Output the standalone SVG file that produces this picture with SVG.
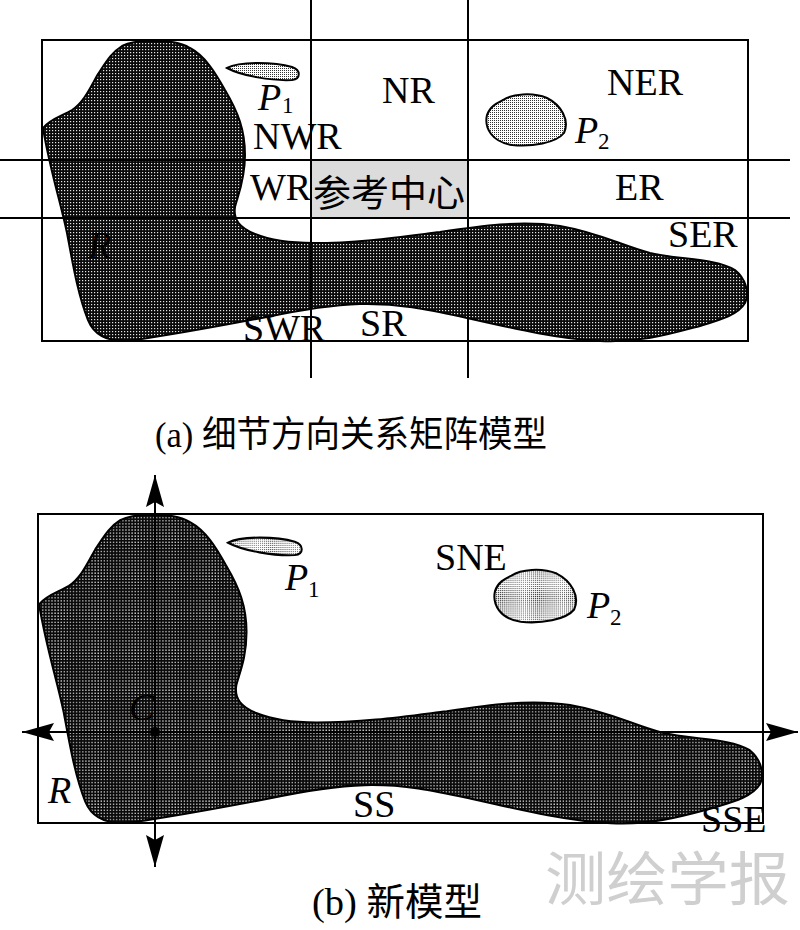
<svg xmlns="http://www.w3.org/2000/svg" xmlns:xlink="http://www.w3.org/1999/xlink" width="800" height="930" viewBox="0 0 800 930">
<style>
.frame{fill:none;stroke:#000;stroke-width:2}
.line{stroke:#000;stroke-width:2;fill:none}
.blob{fill:url(#dark);stroke:#000;stroke-width:2}
.small{fill:url(#light);stroke:#000;stroke-width:2}
.t{font-family:"Liberation Serif","Times New Roman",serif;font-size:38px;fill:#000}
.i{font-style:italic}
.sub{font-size:23px}
.cap{font-family:"Liberation Serif","Noto Sans CJK SC",serif;fill:#000}
.cjk{font-family:"Noto Sans CJK SC",sans-serif;fill:#000}
</style>
<defs>
<pattern id="dark" width="3" height="3" patternUnits="userSpaceOnUse">
<rect width="3" height="3" fill="#0a0a0a"/>
<rect x="1" y="1" width="1.2" height="1.2" fill="#e6e6e6"/>
</pattern>
<pattern id="light" width="2" height="2" patternUnits="userSpaceOnUse">
<rect width="2" height="2" fill="#fff"/>
<rect width="1" height="1" fill="#333"/>
</pattern>
<marker id="arr" markerWidth="32" markerHeight="20" refX="32" refY="10" orient="auto" markerUnits="userSpaceOnUse">
<path d="M32,10 L0,1 L5,10 L0,19 Z" fill="#000"/>
</marker>
<path id="Rshape" d="M43,128 C50,119 62,116 72,110 C84,102 90,88 98,74 C106,62 112,52 122,46 C130,42 138,41 150,41 C170,41 180,42 190,48 C205,56 215,72 225,90 C238,112 245,130 245,155 C245,180 238,195 235,207 C233,220 240,228 255,234 C275,242 295,243 313,243 C360,243 400,237 440,232 C480,226 520,220 560,226 C600,233 620,245 650,253 C680,260 715,258 735,270 C745,278 750,292 745,303 C738,315 720,320 700,326 C670,334 640,343 600,341 C560,339 520,330 467,318 C430,310 400,303 360,304 C330,305 300,310 267,317 C220,326 170,335 135,340 C112,343 95,337 88,320 C78,295 73,265 67,233 C60,200 50,170 43,128 Z"/>
<path id="P1shape" d="M227,68 C240,61 275,62 292,67 C301,70 301,79 292,80 C272,81 242,76 227,68 Z"/>
<path id="P2shape" d="M503,100 C512,94 532,92 547,98 C561,105 570,120 564,133 C556,143 532,147 512,145 C492,142 484,128 487,115 C490,106 497,103 503,100 Z"/>
</defs>

<rect width="800" height="930" fill="#fff"/>

<!-- Panel (a) -->
<g id="panel-a-frame"><rect class="frame" x="42" y="40" width="706" height="301"/></g>
<g id="R-a"><use xlink:href="#Rshape" class="blob"/></g>
<g id="P1-a"><use xlink:href="#P1shape" class="small"/></g>
<g id="P2-a"><use xlink:href="#P2shape" class="small"/></g>
<g id="ref-center"><rect x="311" y="160" width="157" height="58" fill="#dcdcdc"/>
<text class="cjk" x="313" y="207" font-size="37" textLength="152" lengthAdjust="spacingAndGlyphs">参考中心</text></g>

<g id="connectors">
<line class="line" x1="311" y1="0" x2="311" y2="378"/>
<line class="line" x1="468" y1="0" x2="468" y2="378"/>
<line class="line" x1="0" y1="160" x2="790" y2="160"/>
<line class="line" x1="0" y1="218" x2="790" y2="218"/>
<line class="line" x1="155" y1="520" x2="155" y2="475" marker-end="url(#arr)"/>
<line class="line" x1="155" y1="820" x2="155" y2="867" marker-end="url(#arr)"/>
<line class="line" x1="155" y1="732" x2="22" y2="732" marker-end="url(#arr)"/>
<line class="line" x1="155" y1="732" x2="798" y2="732" marker-end="url(#arr)"/>
</g>

<g id="labels-a">
<text class="t i" x="258" y="110">P</text><text class="t sub" x="282" y="113">1</text>
<text class="t" x="382" y="103">NR</text>
<text class="t" x="607" y="95">NER</text>
<text class="t i" x="575" y="143">P</text><text class="t sub" x="598" y="149">2</text>
<text class="t" x="253" y="149">NWR</text>
<text class="t" x="250" y="200">WR</text>
<text class="t" x="615" y="200">ER</text>
<text class="t" x="668" y="247">SER</text>
<text class="t i" x="88" y="258" font-size="34">R</text>
<text class="t" x="243" y="341">SWR</text>
<text class="t" x="360" y="336">SR</text>
</g>
<g id="caption-a"><text class="cap" x="155" y="447" font-size="36" textLength="392" lengthAdjust="spacingAndGlyphs">(a) 细节方向关系矩阵模型</text></g>

<!-- Panel (b) -->
<g id="panel-b-frame"><rect class="frame" x="38" y="514" width="725" height="309"/></g>
<g id="R-b"><use xlink:href="#Rshape" class="blob" transform="translate(-5.1,472.9) scale(1.027)"/></g>
<g id="P1-b"><use xlink:href="#P1shape" class="small" transform="translate(-5.1,472.9) scale(1.027)"/></g>
<g id="P2-b"><use xlink:href="#P2shape" class="small" transform="translate(-5.1,472.9) scale(1.027)"/></g>
<g id="axes-b">
<line class="line" x1="155" y1="505" x2="155" y2="835"/>
<line class="line" x1="50" y1="732" x2="770" y2="732"/>
<circle cx="155" cy="732" r="5" fill="#000"/>
</g>
<g id="labels-b">
<text class="t i" x="285" y="590">P</text><text class="t sub" x="308" y="597">1</text>
<text class="t" x="435" y="570">SNE</text>
<text class="t i" x="587" y="618">P</text><text class="t sub" x="610" y="625">2</text>
<text class="t i" x="129" y="720" font-size="26">C</text>
<text class="t i" x="48" y="803" font-size="36">R</text>
<text class="t" x="353" y="817">SS</text>
<text class="t" x="701" y="832">SSE</text>
</g>
<g id="caption-b"><text class="cap" x="312" y="915" font-size="38" textLength="170" lengthAdjust="spacingAndGlyphs">(b) 新模型</text></g>
<g id="watermark"><text class="cjk" x="545" y="900" font-size="58" style="fill:#cfcfcf" textLength="245" lengthAdjust="spacingAndGlyphs">测绘学报</text></g>
</svg>
